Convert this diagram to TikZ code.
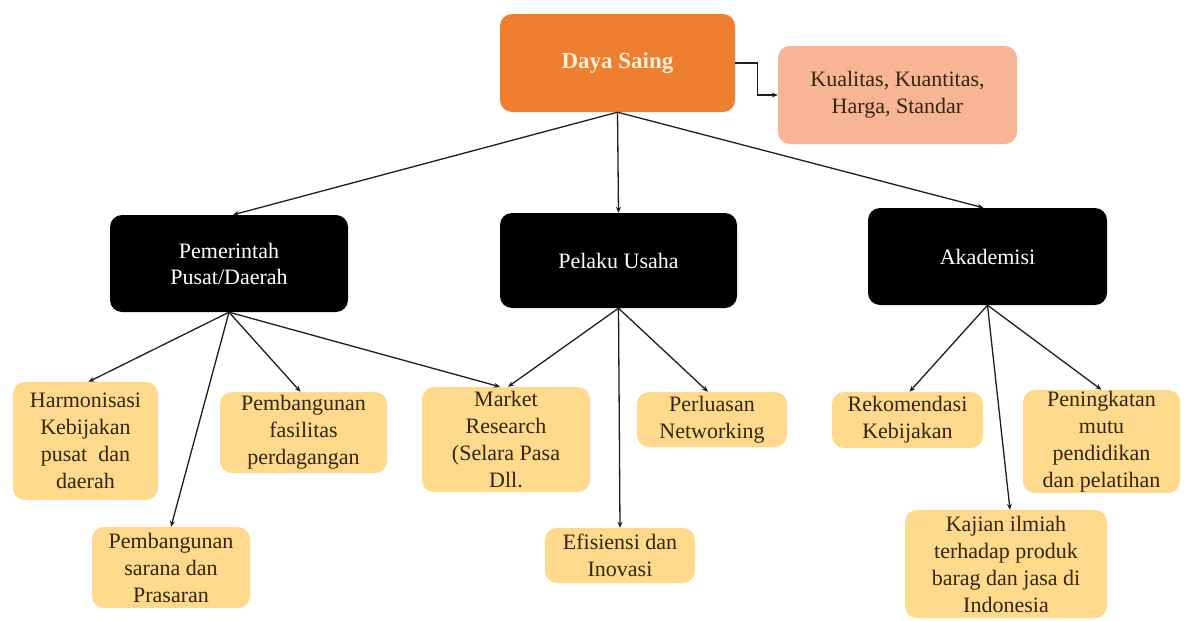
\documentclass[tikz,border=0pt]{standalone}
\usepackage{fontspec}
\setmainfont{Liberation Serif}
\usetikzlibrary{arrows.meta}
\definecolor{dayaorange}{HTML}{EE7F31}
\definecolor{salmon}{HTML}{F7B595}
\definecolor{paleyellow}{HTML}{FFD98C}
\definecolor{darktext}{HTML}{33260C}
\definecolor{creamtext}{HTML}{FFF1D2}
\definecolor{linecol}{HTML}{1E1E1E}
\tikzset{
  basebox/.style={rounded corners=12pt, inner sep=0pt, align=center,
    font=\fontsize{22}{27}\selectfont},
  topbox/.style={basebox, fill=dayaorange, text=creamtext,
    font=\fontsize{23}{27}\selectfont\bfseries},
  attrbox/.style={basebox, fill=salmon, text=darktext},
  actorbox/.style={basebox, fill=black, text=white,
    font=\fontsize{22}{26}\selectfont},
  itembox/.style={basebox, fill=paleyellow, text=darktext},
  arr/.style={draw=linecol, line width=1.3pt, -{Stealth[length=6pt,width=5pt]}}
}
\begin{document}
\begin{tikzpicture}[x=1pt,y=-1pt]
\useasboundingbox (0,0) rectangle (1192,621);
% top level
\node[topbox, minimum width=235pt, minimum height=98pt] (daya) at (617.5,63) {Daya Saing};
\node[attrbox, minimum width=239pt, minimum height=98pt] (kual) at (897.5,95) {Kualitas, Kuantitas,\\Harga, Standar};
% actors
\node[actorbox, minimum width=238pt, minimum height=97pt] (pem) at (229,263.5) {Pemerintah\\Pusat/Daerah};
\node[actorbox, minimum width=237pt, minimum height=95pt] (pel) at (618.5,260.5) {Pelaku Usaha};
\node[actorbox, minimum width=239pt, minimum height=97pt] (aka) at (987.5,256.5) {Akademisi};
% items
\node[itembox, minimum width=145pt, minimum height=118pt] (harm) at (85.5,441) {Harmonisasi\\Kebijakan\\pusat\ \ dan\\daerah};
\node[itembox, minimum width=167pt, minimum height=81pt] (fas) at (303.5,432.5) {Pembangunan\\fasilitas\\perdagangan};
\node[itembox, minimum width=158pt, minimum height=81pt] (sar) at (171,567.5) {Pembangunan\\sarana dan\\Prasaran};
\node[itembox, minimum width=168pt, minimum height=105pt] (mkt) at (506,439.5) {Market\\Research\\(Selara Pasa\\Dll.};
\node[itembox, minimum width=150pt, minimum height=55pt] (perl) at (712,419.5) {Perluasan\\Networking};
\node[itembox, minimum width=150pt, minimum height=55pt] (efi) at (620,555.5) {Efisiensi dan\\Inovasi};
\node[itembox, minimum width=151pt, minimum height=56pt] (rek) at (907.5,420) {Rekomendasi\\Kebijakan};
\node[itembox, minimum width=157pt, minimum height=103pt] (pen) at (1101.5,441.5) {Peningkatan\\mutu\\pendidikan\\dan pelatihan};
\node[itembox, minimum width=202pt, minimum height=108pt] (kaj) at (1006,564) {Kajian ilmiah\\terhadap produk\\barag dan jasa di\\Indonesia};
% connectors
\draw[arr] (daya.east) -- ++(22,0) |- (kual.west);
\draw[arr] (daya.south) -- ([xshift=4pt]pem.north);
\draw[arr] (daya.south) -- (pel.north);
\draw[arr] (daya.south) -- ([xshift=-4pt]aka.north);
\draw[arr] (pem.south) -- ([xshift=3pt]harm.north);
\draw[arr] (pem.south) -- (sar.north);
\draw[arr] (pem.south) -- ([xshift=-3pt]fas.north);
\draw[arr] (pem.south) -- ([xshift=-6pt]mkt.north);
\draw[arr] (pel.south) -- ([xshift=2pt]mkt.north);
\draw[arr] (pel.south) -- (efi.north);
\draw[arr] (pel.south) -- ([xshift=-4pt]perl.north);
\draw[arr] (aka.south) -- ([xshift=2pt]rek.north);
\draw[arr] (aka.south) -- ([xshift=4pt]kaj.north);
\draw[arr] (aka.south) -- (pen.north);
\end{tikzpicture}
\end{document}
